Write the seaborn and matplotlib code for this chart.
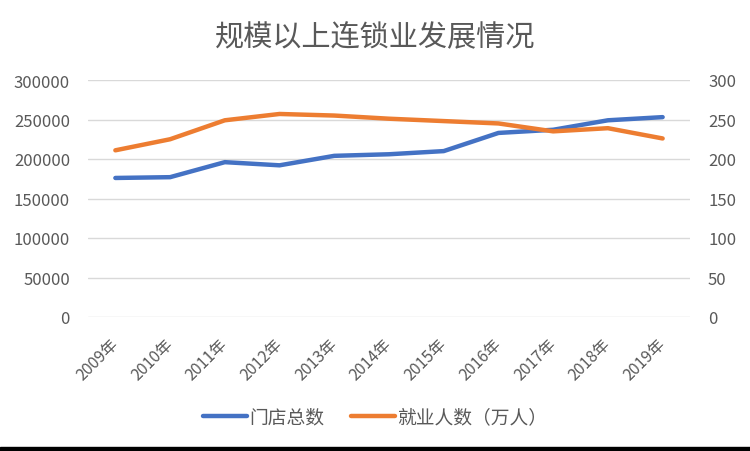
import pandas as pd
import seaborn as sns
import matplotlib.pyplot as plt
from matplotlib.lines import Line2D
from matplotlib.patches import Rectangle

years = ["2009年", "2010年", "2011年", "2012年", "2013年", "2014年",
         "2015年", "2016年", "2017年", "2018年", "2019年"]
stores = [176000, 177000, 196000, 192000, 204000, 206000,
          210000, 233000, 237000, 249000, 253000]
employees = [211, 225, 249, 257, 255, 251, 248, 245, 235, 239, 226]

sns.set_style("white")
plt.rcParams["font.family"] = ["Noto Sans CJK SC", "DejaVu Sans"]

blue = "#4472C4"
orange = "#ED7D31"
grey = "#595959"

df = pd.DataFrame({"year": years, "stores": stores, "employees": employees})
df["x"] = range(len(years))

fig = plt.figure(figsize=(7.5, 4.52), dpi=100)
ax = fig.add_axes([88 / 750, 1 - 318 / 452, 602 / 750, 237 / 452])
ax2 = ax.twinx()

sns.lineplot(data=df, x="x", y="stores", ax=ax, color=blue, linewidth=3.2)
sns.lineplot(data=df, x="x", y="employees", ax=ax2, color=orange, linewidth=3.2)

ax.set_xlim(-0.5, len(years) - 0.5)
ax.set_ylim(0, 300000)
ax2.set_ylim(0, 300)
ax.set_yticks(range(0, 300001, 50000))
ax2.set_yticks(range(0, 301, 50))
ax.set_xticks(df["x"])
ax.set_xticklabels(years, rotation=45, ha="right", va="center",
                   rotation_mode="anchor")

ax.grid(axis="y", color="#D9D9D9", linewidth=1)
ax.set_axisbelow(True)
for a in (ax, ax2):
    for s in a.spines.values():
        s.set_visible(False)
    a.set_xlabel("")
    a.set_ylabel("")
    a.tick_params(length=0, colors=grey, labelsize=12)
ax.tick_params(axis="x", labelsize=11.5, pad=17)
ax.tick_params(axis="y", pad=13)
ax2.tick_params(axis="y", pad=13)

fig.text(0.5, 1 - 38 / 452, "规模以上连锁业发展情况", ha="center", va="center",
         fontsize=21, color=grey)

handles = [Line2D([], [], color=blue, linewidth=3.2),
           Line2D([], [], color=orange, linewidth=3.2)]
fig.legend(handles, ["门店总数", "就业人数（万人）"], loc="center",
           bbox_to_anchor=(0.5, 1 - 418 / 452), ncol=2, frameon=False,
           fontsize=13.5, handlelength=2.35, handletextpad=0.15,
           columnspacing=1.4, labelcolor=grey)

fig.patches.append(Rectangle((0, 0), 1, 4 / 452, transform=fig.transFigure,
                             color="black", zorder=10))

fig.savefig("out.png", dpi=100)
